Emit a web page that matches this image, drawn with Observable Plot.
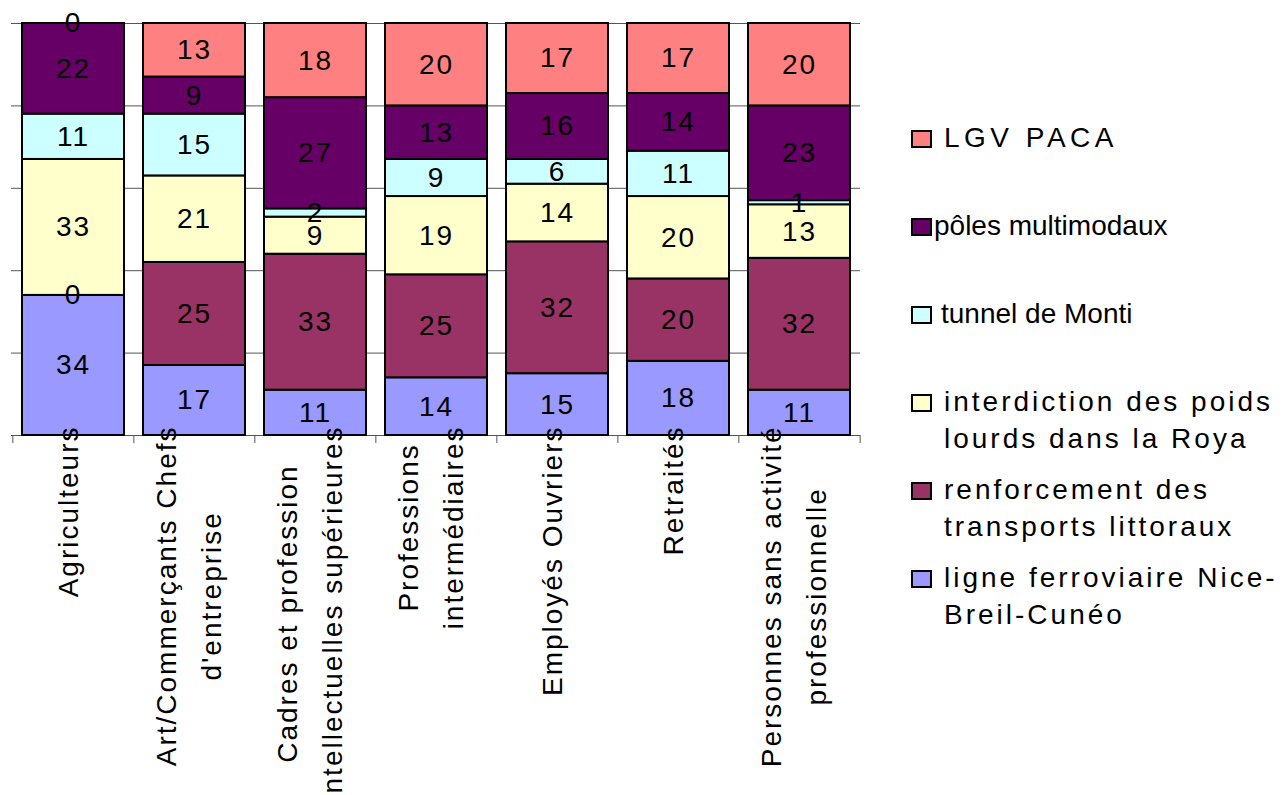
<!DOCTYPE html>
<html><head><meta charset="utf-8">
<script src="https://cdn.jsdelivr.net/npm/d3@7"></script>
<script src="https://cdn.jsdelivr.net/npm/@observablehq/plot@0.6"></script>
<style>
body{margin:0;background:#fff;font-family:"Liberation Sans",Arial,sans-serif;}
#wrap{position:relative;width:1285px;height:795px;overflow:hidden;background:#fff;}
#wrap svg{position:absolute;left:0;top:0;}
#legend{position:absolute;left:911px;top:119px;}
.entry{height:88px;display:flex;align-items:flex-start;}
.sw{width:17px;height:14px;border:2px solid #000;margin-top:11px;flex:none;}
.lab{font-size:28px;line-height:37px;white-space:pre;color:#000;}
</style></head><body><div id="wrap"><div id="legend"></div></div>
<script>
// ---- data ----
const categories = ["Agriculteurs","Art/Commerçants Chefs d'entreprise","Cadres et profession intellectuelles supérieures","Professions intermédiaires","Employés Ouvriers","Retraités","Personnes sans activité professionnelle"];
const categoryLabels = ["Agriculteurs","Art/Commerçants Chefs\nd'entreprise","Cadres et profession\nintellectuelles supérieures","Professions\nintermédiaires","Employés Ouvriers","Retraités","Personnes sans activité\nprofessionnelle"];
// series, bottom to top of the stack
const series = ["ligne ferroviaire Nice-Breil-Cunéo","renforcement des transports littoraux","interdiction des poids lourds dans la Roya","tunnel de Monti","pôles multimodaux","LGV PACA"];
const legendLabels = ["ligne ferroviaire Nice-\nBreil-Cunéo","renforcement des\ntransports littoraux","interdiction des poids\nlourds dans la Roya","tunnel de Monti","pôles multimodaux","LGV PACA"];
const colors = ["#9999FF","#993366","#FFFFCC","#CCFFFF","#660066","#FF8080"];
const ligne        = [34,17,11,14,15,18,11];
const renforcement = [ 0,25,33,25,32,20,32];
const interdiction = [33,21, 9,19,14,20,13];
const tunnel       = [11,15, 2, 9, 6,11, 1];
const poles        = [22, 9,27,13,16,14,23];
const lgv          = [ 0,13,18,20,17,17,20];
const yTicks = [0,20,40,60,80,100];

const values = [ligne, renforcement, interdiction, tunnel, poles, lgv];
const rows = series.flatMap((s, si) => categories.map((c, ci) => ({category: c, series: s, value: values[si][ci]})));
const labelRows = categories.map((c, i) => ({category: c, label: categoryLabels[i]}));

const W = 1285, H = 795;
const plotLeft = 11, plotRight = 860, plotTop = 23, plotBottom = 435;
const step = (plotRight - plotLeft) / categories.length;

const svg = Plot.plot({
  width: W, height: H,
  marginLeft: plotLeft, marginRight: W - plotRight, marginTop: plotTop, marginBottom: H - plotBottom,
  x: {domain: categories, paddingInner: 0.16, paddingOuter: 0.08, axis: null},
  y: {domain: [0, 100], axis: null},
  color: {domain: series, range: colors},
  style: {fontFamily: "'Liberation Sans', Arial, sans-serif", background: "transparent", overflow: "visible", color: "#000"},
  marks: [
    Plot.ruleY(yTicks, {stroke: "#555", strokeWidth: 1}),
    Plot.barY(rows, {x: "category", y: "value", fill: "series", stroke: "#000", strokeWidth: 2}),
    Plot.text(rows, Plot.stackY({x: "category", y: "value", z: "series", text: d => String(d.value), fontSize: 28, fill: "#000"})),
    Plot.ruleX(categories, {x: d => d, y1: d => 0, y2: d => 0, insetBottom: -8, dx: -step / 2, stroke: "#555", strokeWidth: 1}),
    Plot.ruleX(categories.slice(-1), {x: d => d, y1: d => 0, y2: d => 0, insetBottom: -8, dx: step / 2, stroke: "#555", strokeWidth: 1}),
    Plot.text(labelRows, {x: "category", y: d => 0, text: "label", rotate: -90, textAnchor: "end", lineAnchor: "middle", lineHeight: 1.6, fontSize: 28, fill: "#000", dx: -10, dy: -10})
  ]
});
const wrap = document.getElementById("wrap");
wrap.insertBefore(svg, wrap.firstChild);

// letter spacing and centred wrapped lines for the category labels
const groups = svg.querySelectorAll('g[aria-label="text"]');
const numG = groups[0], labG = groups[groups.length - 1];
numG.setAttribute("letter-spacing", "2");
labG.setAttribute("letter-spacing", "2");
labG.querySelectorAll("text").forEach(t => {
  const spans = t.querySelectorAll("tspan");
  if (spans.length < 2) return;
  const maxLen = Math.max(...[...spans].map(s => s.getComputedTextLength()));
  t.setAttribute("text-anchor", "middle");
  spans.forEach(s => s.setAttribute("x", -maxLen / 2));
});

// legend (top to bottom: reverse of stack order)
const legendStyle = {"LGV PACA": {gap: 12, ls: 4.5}, "pôles multimodaux": {gap: 2, ls: 0}, "tunnel de Monti": {gap: 9, ls: 0}};
const legend = d3.select("#legend");
series.map((s, i) => ({s, label: legendLabels[i], color: colors[i]})).reverse().forEach(e => {
  const st = legendStyle[e.s] || {gap: 12, ls: 3};
  const div = legend.append("div").attr("class", "entry");
  div.append("div").attr("class", "sw").style("background", e.color).style("margin-right", st.gap + "px");
  div.append("div").attr("class", "lab").style("letter-spacing", st.ls + "px").text(e.label);
});
</script></body></html>
